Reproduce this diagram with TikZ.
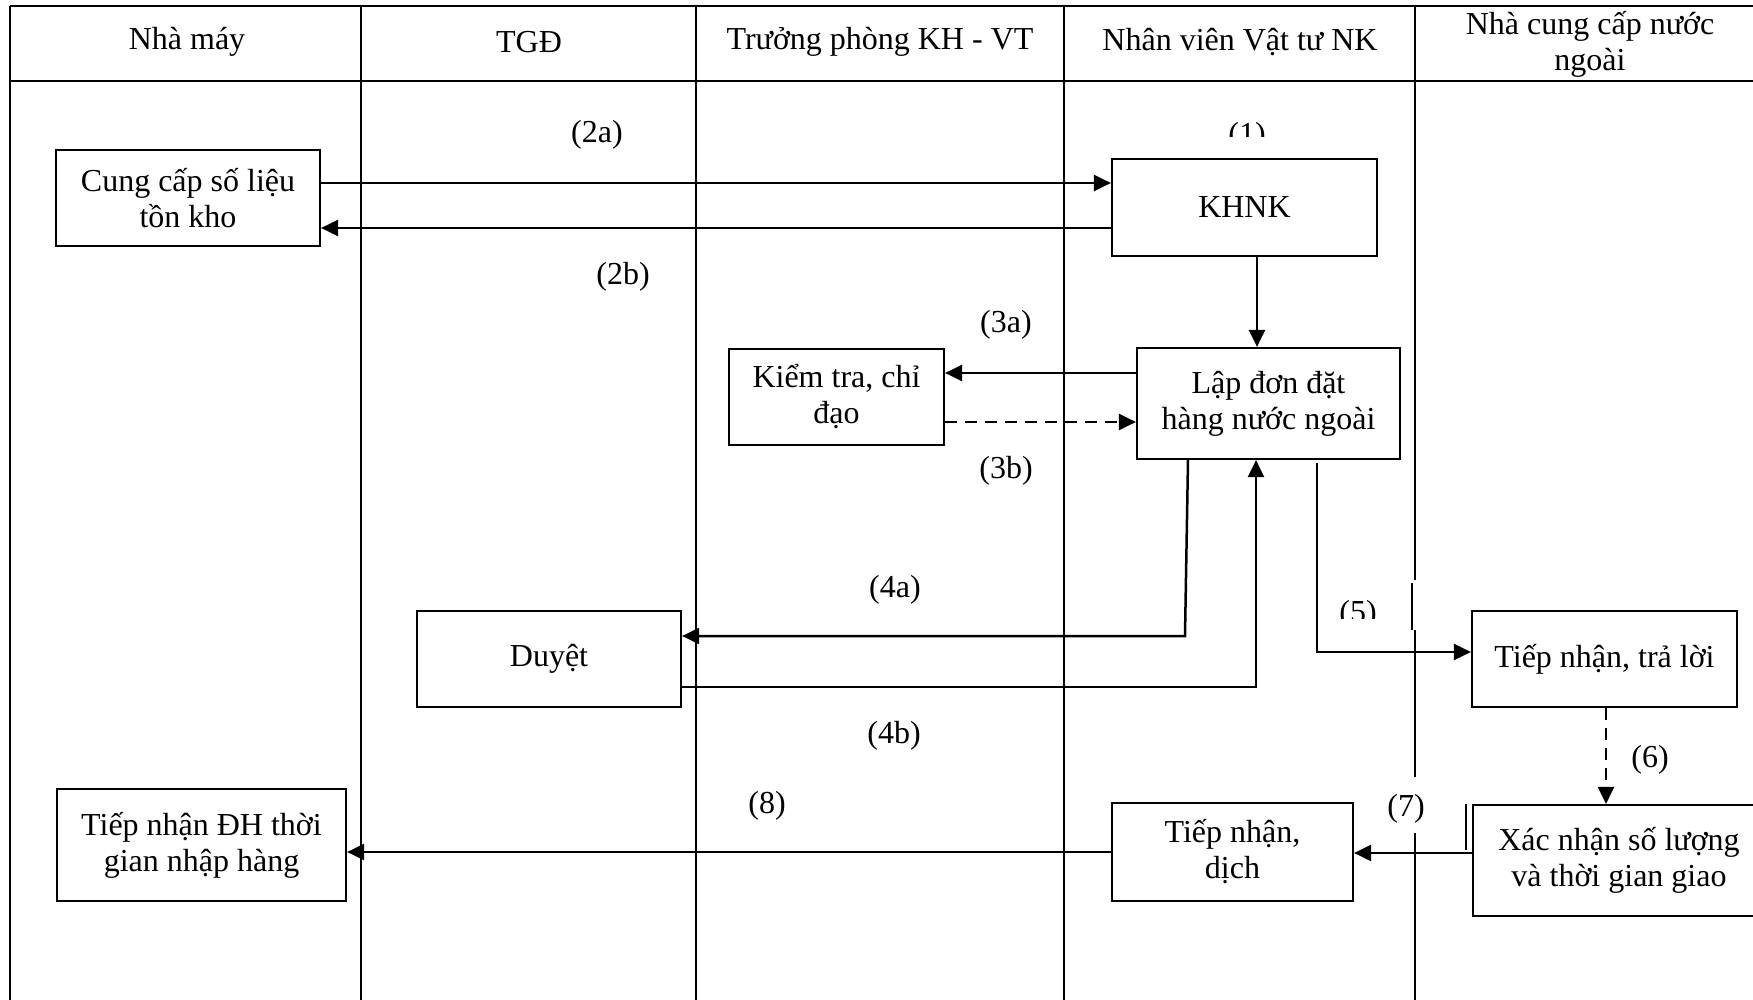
\documentclass[tikz,border=0pt]{standalone}
\usepackage{fontspec}
\setmainfont{Liberation Serif}
\usetikzlibrary{arrows.meta}
\newcommand\dfont{\fontsize{16pt}{18pt}\selectfont}
\begin{document}
\begin{tikzpicture}[x=0.5pt,y=-0.5pt,
  box/.style={draw,line width=1.1pt,inner sep=0pt,align=center,font=\dfont},
  head/.style={inner sep=0pt,align=center,font=\dfont},
  lbl/.style={inner sep=0pt,font=\dfont},
  arr/.style={line width=1.25pt,-{Triangle[length=8.5pt,width=8pt]}},
  dsh/.style={dash pattern=on 6pt off 4pt},
  tline/.style={line width=1.4pt},
  cline/.style={line width=1pt}]
\clip (0,0) rectangle (1753,1000);
\useasboundingbox (0,0) rectangle (1753,1000);
% table
\draw[tline] (10,6) -- (1800,6);
\draw[tline] (10,81) -- (1800,81);
\draw[cline] (10,6) -- (10,1000);
\draw[cline] (361,6) -- (361,1000);
\draw[cline] (696,6) -- (696,1000);
\draw[cline] (1064,6) -- (1064,1000);
\draw[cline] (1415,6) -- (1415,580);
\draw[cline] (1412,583) -- (1412,630);
\draw[cline] (1415,630) -- (1415,777);
\draw[cline] (1415,833) -- (1415,1000);
\draw[cline] (1466,804) -- (1466,850);
% headers
\node[head] (h1) at (187,42) {Nhà máy};
\node[head] (h2) at (529,42) {TGĐ};
\node[head] (h3) at (880,42) {Trưởng phòng KH - VT};
\node[head] (h4) at (1240,42) {Nhân viên Vật tư NK};
\node[head] (h5) at (1590,44) {Nhà cung cấp nước\\ngoài};
% boxes
\node[box,minimum width=132pt,minimum height=48pt] (cung) at (188,198) {Cung cấp số liệu\\tồn kho};
\node[box,minimum width=132.5pt,minimum height=48.5pt] (khnk) at (1244.5,207.5) {KHNK};
\node[box,minimum width=131.5pt,minimum height=55.5pt] (lap) at (1268.5,403.5) {Lập đơn đặt\\hàng nước ngoài};
\node[box,minimum width=107.5pt,minimum height=48pt] (kiem) at (836.5,397) {Kiểm tra, chỉ\\đạo};
\node[box,minimum width=132pt,minimum height=48pt] (duyet) at (549,659) {Duyệt};
\node[box,minimum width=132.5pt,minimum height=48pt] (tntl) at (1604.5,659) {Tiếp nhận, trả lời};
\node[box,minimum width=146pt,minimum height=55.5pt] (xn) at (1619,860.5) {Xác nhận số lượng\\và thời gian giao};
\node[box,minimum width=120.5pt,minimum height=49pt] (tnd) at (1232.5,852) {Tiếp nhận,\\dịch};
\node[box,minimum width=144.5pt,minimum height=56pt] (tndh) at (201.5,845) {Tiếp nhận ĐH thời\\gian nhập hàng};
% helper coordinates
\coordinate (r2a) at (0,183);
\coordinate (r2b) at (0,228);
\coordinate (c1) at (1257,0);
\coordinate (r3a) at (0,373);
\coordinate (r3b) at (0,422);
\coordinate (c4a) at (1188,0);
\coordinate (k4a) at (1185,636);
\coordinate (r4b) at (0,687);
\coordinate (c4b) at (1256,0);
\coordinate (s5) at (1317,463);
\coordinate (r5) at (0,652);
\coordinate (c6) at (1606,0);
\coordinate (r7) at (0,853);
\coordinate (r8) at (0,852);
% connectors
\draw[arr] (cung.east |- r2a) -- (khnk.west |- r2a);
\draw[arr] (khnk.west |- r2b) -- (cung.east |- r2b);
\draw[arr] (khnk.south -| c1) -- (lap.north -| c1);
\draw[arr] (lap.west |- r3a) -- (kiem.east |- r3a);
\draw[arr,dsh] (kiem.east |- r3b) -- (lap.west |- r3b);
\draw[arr] (lap.south -| c4a) -- (k4a) -- (duyet.east |- k4a);
\draw[arr] (duyet.east |- r4b) -| (lap.south -| c4b);
\draw[arr] (s5) |- (tntl.west |- r5);
\draw[arr,dsh] (tntl.south -| c6) -- (xn.north -| c6);
\draw[arr] (xn.west |- r7) -- (tnd.east |- r7);
\draw[arr] (tnd.west |- r8) -- (tndh.east |- r8);
% labels
\node[lbl] (l2a) at (597,135) {(2a)};
\node[lbl] (l2b) at (623,277) {(2b)};
\node[lbl] (l3a) at (1006,325) {(3a)};
\node[lbl] (l3b) at (1006,471) {(3b)};
\node[lbl] (l4a) at (895,590) {(4a)};
\node[lbl] (l4b) at (894,736) {(4b)};
\node[lbl] (l6) at (1650,760) {(6)};
\node[lbl] (l7) at (1406,809) {(7)};
\node[lbl] (l8) at (767,806) {(8)};
\begin{scope}
\clip (1200,100) rectangle (1300,137);
\node[lbl,anchor=base] (l1) at (1247,145) {(1)};
\end{scope}
\begin{scope}
\clip (1320,580) rectangle (1400,618);
\node[lbl,anchor=base] (l5) at (1358,622) {(5)};
\end{scope}
\end{tikzpicture}
\end{document}
